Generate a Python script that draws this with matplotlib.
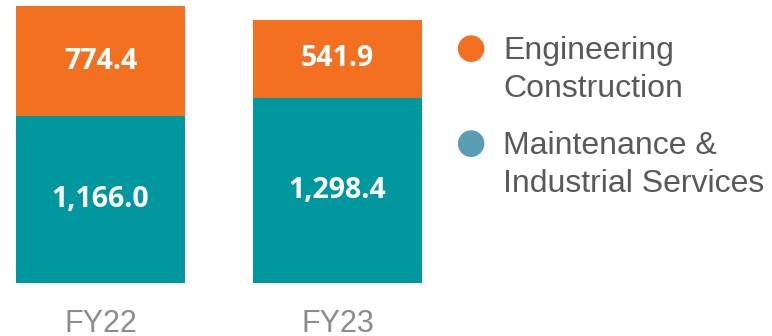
import matplotlib.pyplot as plt

years = ['FY22', 'FY23']
maintenance = [1166.0, 1298.4]
engineering = [774.4, 541.9]
series_names = ['Engineering\nConstruction', 'Maintenance &\nIndustrial Services']

ORANGE = '#F37021'
TEAL = '#00979F'
LEGEND_TEAL = '#5A9EB6'
TEXT_GREY = '#595959'
AXIS_GREY = '#8C8C8C'

fig = plt.figure(figsize=(7.72, 3.36), dpi=100)
ax = fig.add_axes([0, 0, 1, 1])

# pixel scale: bar spacing 237px, 0.1428px per unit
ax.set_xlim(-100.5 / 237, -100.5 / 237 + 772 / 237)
ax.set_ylim(-53 / 0.1428, 283 / 0.1428)
ax.axis('off')

x = range(len(years))
bottom_bars = ax.bar(x, maintenance, width=0.713, color=TEAL)
top_bars = ax.bar(x, engineering, width=0.713, bottom=maintenance, color=ORANGE)

for bars, vals, base in [(bottom_bars, maintenance, [0, 0]),
                         (top_bars, engineering, maintenance)]:
    for rect, v, b in zip(bars, vals, base):
        ax.text(rect.get_x() + rect.get_width() / 2, b + v / 2, f'{v:,.1f}',
                ha='center', va='center', color='white', fontsize=20.5,
                fontweight='bold', family='Open Sans')

for i, yr in enumerate(years):
    ax.annotate(yr, xy=(i, 4), xycoords=('data', 'figure pixels'),
                ha='center', va='baseline', fontsize=22, color=AXIS_GREY,
                family='Liberation Sans')

# legend drawn by hand so the dot sits on the first line
legend_rows = [(ORANGE, series_names[0], 336 - 48), (LEGEND_TEAL, series_names[1], 336 - 143)]
for color, label, ypix in legend_rows:
    fig.text(470 / 772, ypix / 336, '\u25CF', color=color, fontsize=25,
             ha='center', va='center', family='DejaVu Sans')
    fig.text(503 / 772, (ypix + 12) / 336, label, color=TEXT_GREY, fontsize=23,
             ha='left', va='top', family='Liberation Sans', linespacing=1.35)

fig.savefig('out.png', dpi=100)
